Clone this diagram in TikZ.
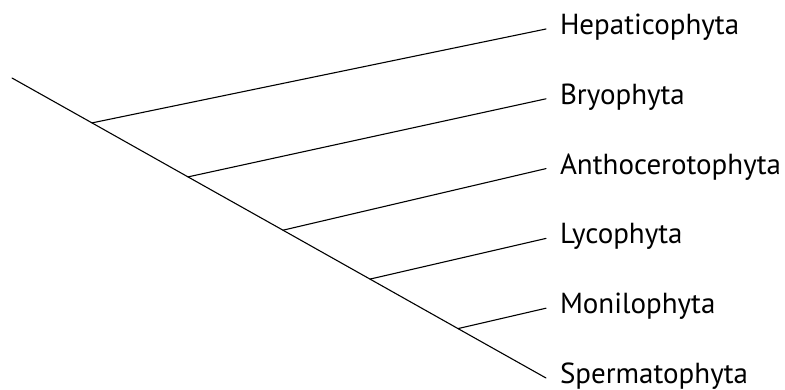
\documentclass[tikz,border=0pt]{standalone}
\usepackage{fontspec}
\setmainfont{PT Sans}
\begin{document}
\begin{tikzpicture}[x=1pt,y=-1pt,every node/.style={font=\fontsize{29}{31}\selectfont}]

  % parámetros
  \def\xTip{546}   % x de las puntas de las ramas
  \def\gap{14pt}   % separación entre punta y texto

  % estilos
  \tikzset{
    rama/.style={line width=1.1pt, line cap=round},
    taxon/.style={anchor=west, inner sep=0pt, outer xsep=\gap,
                  text height=19pt, text depth=8pt}
  }

  % marco
  \useasboundingbox (0,0) rectangle (785,390);

  % raíz y nudos sobre el tronco
  \coordinate (root) at (12,78);
  \coordinate (n1) at (92,122.9);
  \coordinate (n2) at (188,176.9);
  \coordinate (n3) at (283,230.2);
  \coordinate (n4) at (370,279.1);
  \coordinate (n5) at (458,328.6);

  % etiquetas de los grupos
  \node[taxon] (hep)  at (\xTip,29)    {Hepaticophyta};
  \node[taxon] (bry)  at (\xTip,98.8)  {Bryophyta};
  \node[taxon] (ant)  at (\xTip,168.6) {Anthocerotophyta};
  \node[taxon] (lyc)  at (\xTip,238.4) {Lycophyta};
  \node[taxon] (mon)  at (\xTip,308.2) {Monilophyta};
  \node[taxon] (sper) at (\xTip,378)   {Spermatophyta};

  % tronco
  \draw[rama] (root) -- (n1) -- (n2) -- (n3) -- (n4) -- (n5) -- (sper.west);

  % ramas
  \draw[rama] (n1) -- (hep.west);
  \draw[rama] (n2) -- (bry.west);
  \draw[rama] (n3) -- (ant.west);
  \draw[rama] (n4) -- (lyc.west);
  \draw[rama] (n5) -- (mon.west);

\end{tikzpicture}
\end{document}
